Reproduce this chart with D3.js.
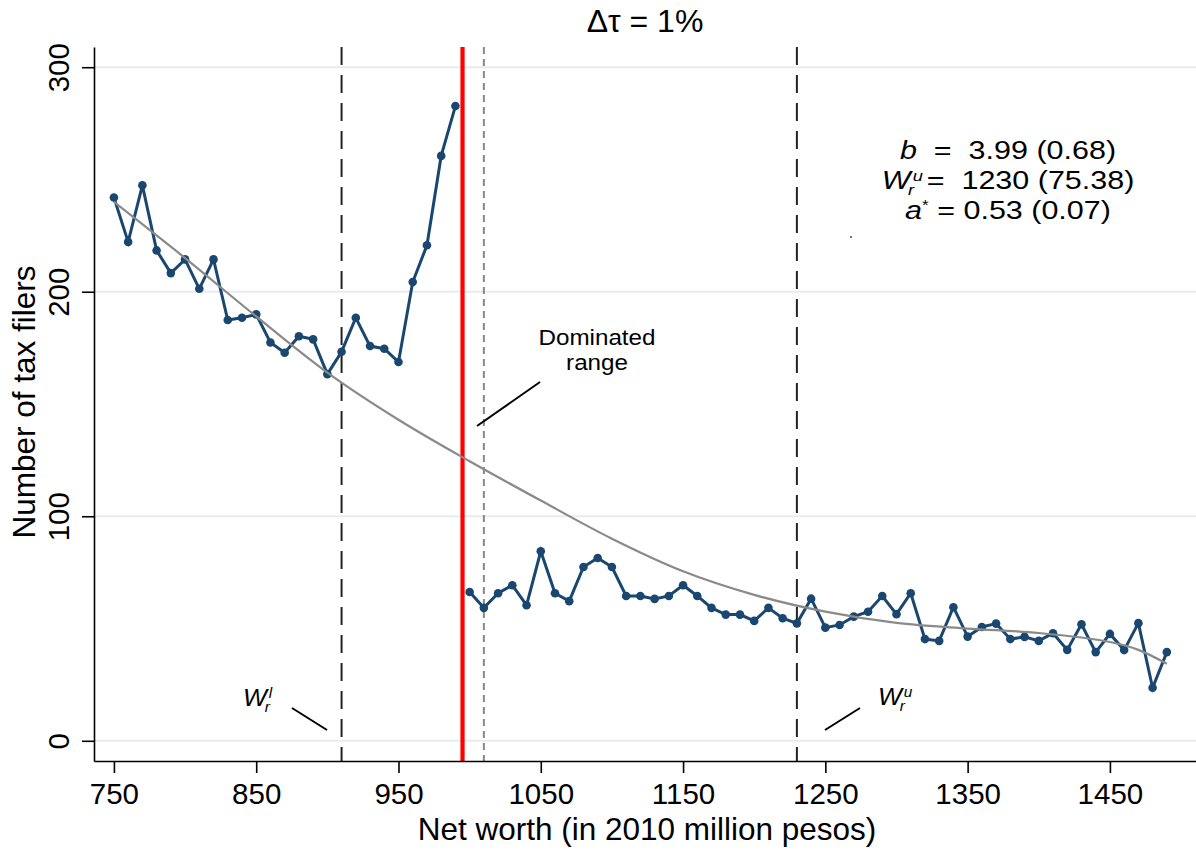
<!DOCTYPE html>
<html lang="en">
<head>
  <meta charset="UTF-8">
  <title>Bunching at the threshold</title>
  <style>
    body { margin: 0; background: #fff; }
    svg text { font-family: "Liberation Sans", Arial, Helvetica, sans-serif; fill: #000; }
    .grid { stroke: #e4edf0; stroke-width: 2; }
    .series { fill: none; stroke: #1a476f; stroke-width: 3; }
    .dot { fill: #1a476f; }
    .fit { fill: none; stroke: #8a8a8a; stroke-width: 2.2; }
  </style>
</head>
<body>
  <svg id="chart" width="1196" height="851"></svg>
  <script src="https://cdn.jsdelivr.net/npm/d3@7"></script>
  <script>
    // bins below the threshold (net worth, million pesos)
    var binsBelow = [750, 760, 770, 780, 790, 800, 810, 820, 830, 840, 850, 860, 870, 880, 890,
      900, 910, 920, 930, 940, 950, 960, 970, 980, 990];
    var countsBelow = [242.0, 222.2, 247.4, 218.4, 208.3, 214.4, 201.3, 214.4, 187.4, 188.4, 189.9,
      177.4, 172.8, 180.2, 178.8, 163.3, 173.3, 188.4, 175.8, 174.6, 168.7, 204.3, 220.7, 260.5, 282.7];

    // bins above the threshold
    var binsAbove = [1000, 1010, 1020, 1030, 1040, 1050, 1060, 1070, 1080, 1090,
      1100, 1110, 1120, 1130, 1140, 1150, 1160, 1170, 1180, 1190,
      1200, 1210, 1220, 1230, 1240, 1250, 1260, 1270, 1280, 1290,
      1300, 1310, 1320, 1330, 1340, 1350, 1360, 1370, 1380, 1390,
      1400, 1410, 1420, 1430, 1440, 1450, 1460, 1470, 1480, 1490];
    var countsAbove = [66.3, 59.2, 65.7, 69.3, 60.4, 84.4, 65.7, 62.2, 77.4, 81.4,
      77.4, 64.5, 64.5, 63.2, 64.5, 69.3, 64.5, 59.2, 56.2, 56.2,
      53.4, 59.2, 54.6, 52.3, 63.3, 50.4, 51.6, 55.3, 57.5, 64.5,
      56.4, 65.7, 45.3, 44.5, 59.5, 46.4, 50.7, 52.2, 45.3, 46.3,
      44.5, 47.9, 40.5, 51.9, 39.5, 47.6, 40.4, 52.4, 23.6, 39.5];

    // counterfactual fit (grey curve)
    var fitX = [750, 800, 850, 900, 950, 1000, 1050, 1100, 1150, 1200, 1250, 1300, 1350, 1400, 1450, 1470, 1490];
    var fitY = [240, 215, 189, 164, 143, 124.5, 107, 90, 75.5, 65, 57.5, 52.5, 50, 48, 44, 40.5, 34.3];

    var xTicks = [750, 850, 950, 1050, 1150, 1250, 1350, 1450];
    var yTicks = [0, 100, 200, 300];

    var wLower = 910;      // W_r^l
    var threshold = 995;   // red line
    var domEnd = 1010;     // end of dominated range
    var wUpper = 1230;     // W_r^u

    var svg = d3.select('#chart');
    var x = d3.scaleLinear().domain([736, 1510.5]).range([94, 1196]);
    var y = d3.scaleLinear().domain([-9, 309]).range([761, 47]);

    // gridlines
    svg.append('g').selectAll('line').data(yTicks).enter().append('line')
      .attr('class', 'grid')
      .attr('x1', 94).attr('x2', 1196)
      .attr('y1', function (d) { return y(d); })
      .attr('y2', function (d) { return y(d); });

    // reference lines
    function vline(v, color, width, dash) {
      svg.append('line')
        .attr('x1', x(v)).attr('x2', x(v))
        .attr('y1', 47).attr('y2', 761)
        .attr('stroke', color).attr('stroke-width', width)
        .attr('stroke-dasharray', dash);
    }
    vline(wLower, '#222', 2, '18,10');
    vline(wUpper, '#222', 2, '18,10');
    vline(domEnd, '#888', 2, '7,5');
    vline(threshold, '#ff0000', 4.2, null);

    // axes
    var xAxis = svg.append('g').attr('transform', 'translate(0,761)')
      .call(d3.axisBottom(x).tickValues(xTicks).tickFormat(d3.format('d'))
        .tickSize(12).tickSizeOuter(0).tickPadding(10));
    xAxis.selectAll('text').style('font-size', '29.5px');
    var yAxis = svg.append('g').attr('transform', 'translate(94,0)')
      .call(d3.axisLeft(y).tickValues(yTicks).tickFormat(d3.format('d')).tickSize(12).tickSizeOuter(0));
    yAxis.selectAll('text')
      .attr('x', null).attr('dy', null)
      .attr('text-anchor', 'middle')
      .attr('transform', 'translate(-25,0) rotate(-90)')
      .style('font-size', '29.5px');
    svg.selectAll('.domain, .tick line').attr('stroke', '#000').attr('stroke-width', 1.6);

    // series
    var line = d3.line()
      .x(function (d) { return x(d[0]); })
      .y(function (d) { return y(d[1]); });
    var below = d3.zip(binsBelow, countsBelow);
    var above = d3.zip(binsAbove, countsAbove);
    [below, above].forEach(function (seg) {
      svg.append('path').datum(seg).attr('class', 'series').attr('d', line);
      svg.append('g').selectAll('circle').data(seg).enter().append('circle')
        .attr('class', 'dot')
        .attr('cx', function (d) { return x(d[0]); })
        .attr('cy', function (d) { return y(d[1]); })
        .attr('r', 4.3);
    });

    // fitted curve
    svg.append('path').datum(d3.zip(fitX, fitY)).attr('class', 'fit')
      .attr('d', line.curve(d3.curveCatmullRom));

    // title and axis titles
    svg.append('text').attr('x', 645).attr('y', 32).attr('text-anchor', 'middle')
      .style('font-size', '32px').text('Δτ = 1%');
    svg.append('text').attr('x', 647).attr('y', 840).attr('text-anchor', 'middle')
      .style('font-size', '31.5px').text('Net worth (in 2010 million pesos)');
    svg.append('text').attr('transform', 'translate(35,402) rotate(-90)').attr('text-anchor', 'middle')
      .style('font-size', '31.5px').text('Number of tax filers');

    // annotations
    function stretched(px, py, sx) {
      return svg.append('text')
        .attr('transform', 'translate(' + px + ',' + py + ') scale(' + sx + ',1)')
        .style('white-space', 'pre');
    }
    stretched(597, 345, 1.1).attr('text-anchor', 'middle').style('font-size', '22px').text('Dominated');
    stretched(597, 370, 1.1).attr('text-anchor', 'middle').style('font-size', '22px').text('range');

    function pointer(x1, y1, x2, y2) {
      svg.append('line').attr('x1', x1).attr('y1', y1).attr('x2', x2).attr('y2', y2)
        .attr('stroke', '#000').attr('stroke-width', 2);
    }
    pointer(540, 382, 477, 426);
    pointer(292, 708, 327, 730);
    pointer(825, 730, 860, 708);

    // W with sub r and a superscript, written as tspans
    function addW(t, sup, size, rest) {
      var small = Math.round(size * 0.6);
      t.append('tspan').style('font-style', 'italic').text('W');
      t.append('tspan').attr('dx', -2).attr('dy', size * 0.24)
        .style('font-style', 'italic').style('font-size', small + 'px').text('r');
      t.append('tspan').attr('dx', -1).attr('dy', -size * 0.58)
        .style('font-style', 'italic').style('font-size', small + 'px').text(sup);
      if (rest) {
        t.append('tspan').attr('dx', 3).attr('dy', size * 0.34).text(rest);
      }
      return t;
    }
    addW(stretched(243, 706, 1.1).style('font-size', '23px'), 'l', 23);
    addW(stretched(878, 705, 1.1).style('font-size', '23px'), 'u', 23);

    // estimates block
    var fs = 25, sx = 1.22, cx = 1008;
    var l1 = stretched(cx, 159, sx).attr('text-anchor', 'middle').style('font-size', fs + 'px');
    l1.append('tspan').style('font-style', 'italic').text('b');
    l1.append('tspan').text('  =  3.99 (0.68)');
    addW(stretched(cx, 189, sx).attr('text-anchor', 'middle').style('font-size', fs + 'px'),
      'u', fs, '=  1230 (75.38)');
    var l3 = stretched(cx, 219, sx).attr('text-anchor', 'middle').style('font-size', fs + 'px');
    l3.append('tspan').style('font-style', 'italic').text('a');
    l3.append('tspan').attr('dy', -9).style('font-size', '14px').text('*');
    l3.append('tspan').attr('dy', 9).text(' = 0.53 (0.07)');
    svg.append('circle').attr('cx', 851).attr('cy', 237).attr('r', 1).attr('fill', '#444');
  </script>
</body>
</html>
